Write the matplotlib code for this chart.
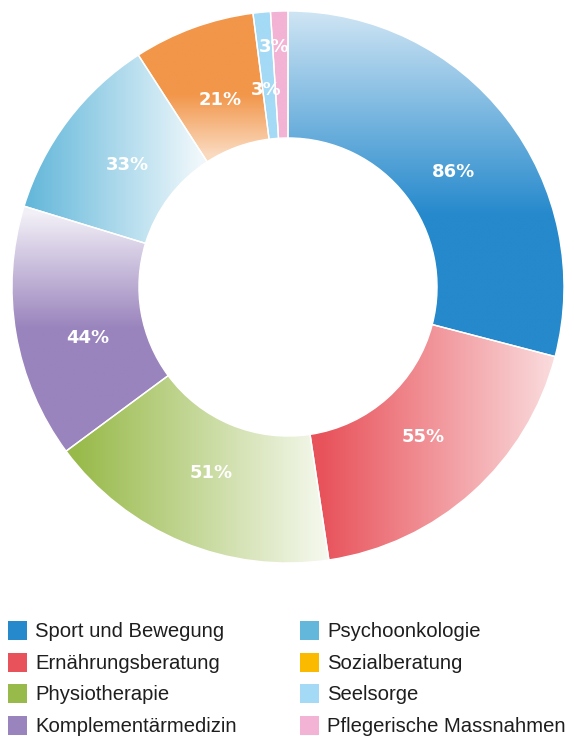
import numpy as np
import matplotlib
matplotlib.use("Agg")
from matplotlib import pyplot as plt
from matplotlib.patches import Wedge, Rectangle
from matplotlib.colors import to_rgb

# data
labels = ["Sport und Bewegung", "Ernährungsberatung", "Physiotherapie",
          "Komplementärmedizin", "Psychoonkologie", "Sozialberatung",
          "Seelsorge", "Pflegerische Massnahmen"]
values = [86, 55, 51, 44, 33, 21, 3, 3]
slice_colors = ["#2589CC", "#E8525A", "#98BA4A", "#9A84BD",
                "#62B7DA", "#F2964A", "#A4DAF5", "#F2B3D4"]
legend_colors = ["#2589CC", "#E8525A", "#98BA4A", "#9A84BD",
                 "#62B7DA", "#FBB900", "#A4DAF5", "#F2B3D4"]

# gradient style per slice: (axis, coord where full colour, coord where light, white mix at light end)
grads = [("y", 0.26, 1.0, 0.78),
         ("x", 0.12, 0.97, 0.80),
         ("x", -0.77, 0.15, 0.92),
         ("y", -0.15, 0.27, 0.88),
         ("x", -0.95, -0.32, 0.90),
         ("y", 0.70, 0.48, 0.65),
         None, None]
# label placement (radius, angle nudge in degrees)
label_r = [0.73, 0.73, 0.73, 0.75, 0.73, 0.72, 0.72, 0.87]
label_da = [-2.8, 0, 0, 4.6, 0, 0, 0.9, 1.5]

W, H = 574, 736
fig = plt.figure(figsize=(W / 100, H / 100), dpi=100)
cx, cy, R = 288, 287, 276
ax = fig.add_axes([(cx - R) / W, (H - cy - R) / H, 2 * R / W, 2 * R / H])
ax.set_xlim(-1, 1)
ax.set_ylim(-1, 1)
ax.set_aspect("equal")
ax.axis("off")

inner = 0.54
total = sum(values)
n = 400
xs = np.linspace(-1, 1, n)
XX, YY = np.meshgrid(xs, xs[::-1])

start = 90.0
for i, v in enumerate(values):
    span = 360.0 * v / total
    t1, t2 = start - span, start
    col = np.array(to_rgb(slice_colors[i]))
    w = Wedge((0, 0), 1, t1, t2, width=1 - inner, facecolor="none", edgecolor="none")
    ax.add_patch(w)
    g = grads[i]
    if g is None:
        img = np.ones((n, n, 3)) * col
    else:
        axis, pf, pl, mix = g
        C = XX if axis == "x" else YY
        t = np.clip((C - pf) / (pl - pf), 0, 1)[..., None] * mix
        img = col * (1 - t) + np.ones(3) * t
    im = ax.imshow(img, extent=(-1, 1, -1, 1), origin="upper", interpolation="bilinear", zorder=1)
    im.set_clip_path(w)
    edge = Wedge((0, 0), 1, t1, t2, width=1 - inner, facecolor="none",
                 edgecolor="white", linewidth=1.0, zorder=2)
    ax.add_patch(edge)
    mid = np.deg2rad((t1 + t2) / 2 + label_da[i])
    ax.text(label_r[i] * np.cos(mid), label_r[i] * np.sin(mid), f"{v}%",
            ha="center", va="center", color="white", fontsize=13,
            fontweight="heavy", zorder=3)
    start = t1

# legend
rows = [630, 662, 693, 725]
cols = [8, 300]
sq = 19
for i, lab in enumerate(labels):
    c, r = divmod(i, 4)
    x0 = cols[c]
    y0 = rows[r]
    fig.patches.append(Rectangle((x0 / W, (H - y0 - sq / 2) / H), sq / W, sq / H,
                                 transform=fig.transFigure, facecolor=legend_colors[i],
                                 edgecolor="none"))
    fig.text((x0 + 27) / W, (H - y0 - 7) / H, lab, ha="left", va="baseline",
             fontsize=14.6, color="#1e1e1e", family="Liberation Sans")

fig.savefig("out.png", dpi=100)
